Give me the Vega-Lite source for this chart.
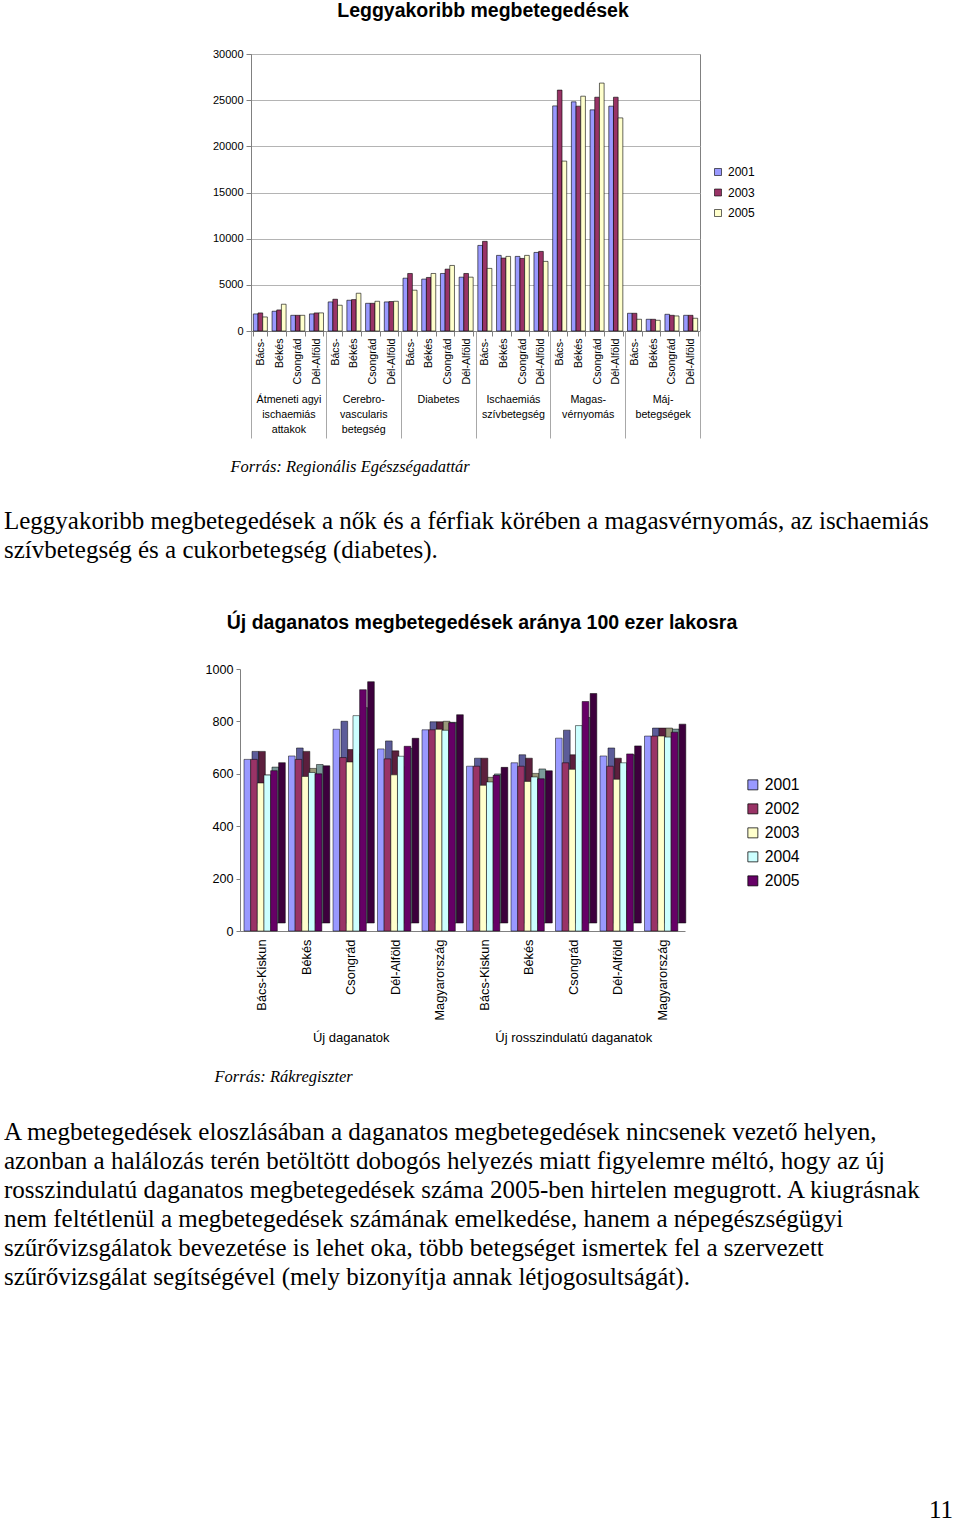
{
"$schema": "https://vega.github.io/schema/vega-lite/v6.json",
"padding": {"left": 4, "right": 0, "top": 0, "bottom": 0},
"autosize": {"type": "pad"},
"config": {
  "font": "Liberation Sans",
  "view": {"stroke": null},
  "axis": {"labelColor": "black", "labelFont": "Liberation Sans"},
  "legend": {"labelColor": "black", "labelFont": "Liberation Sans"},
  "title": {"color": "black"}
},
"datasets": {
"c1": [
{"grp":"Átmeneti agyi|ischaemiás|attakok","k":"1 Bács-","year":"2001","value":1850},
{"grp":"Átmeneti agyi|ischaemiás|attakok","k":"1 Bács-","year":"2003","value":1960},
{"grp":"Átmeneti agyi|ischaemiás|attakok","k":"1 Bács-","year":"2005","value":1520},
{"grp":"Átmeneti agyi|ischaemiás|attakok","k":"1 Békés","year":"2001","value":2140},
{"grp":"Átmeneti agyi|ischaemiás|attakok","k":"1 Békés","year":"2003","value":2280},
{"grp":"Átmeneti agyi|ischaemiás|attakok","k":"1 Békés","year":"2005","value":2900},
{"grp":"Átmeneti agyi|ischaemiás|attakok","k":"1 Csongrád","year":"2001","value":1700},
{"grp":"Átmeneti agyi|ischaemiás|attakok","k":"1 Csongrád","year":"2003","value":1700},
{"grp":"Átmeneti agyi|ischaemiás|attakok","k":"1 Csongrád","year":"2005","value":1700},
{"grp":"Átmeneti agyi|ischaemiás|attakok","k":"1 Dél-Alföld","year":"2001","value":1850},
{"grp":"Átmeneti agyi|ischaemiás|attakok","k":"1 Dél-Alföld","year":"2003","value":1960},
{"grp":"Átmeneti agyi|ischaemiás|attakok","k":"1 Dél-Alföld","year":"2005","value":1960},
{"grp":"Cerebro-|vascularis|betegség","k":"2 Bács-","year":"2001","value":3150},
{"grp":"Cerebro-|vascularis|betegség","k":"2 Bács-","year":"2003","value":3440},
{"grp":"Cerebro-|vascularis|betegség","k":"2 Bács-","year":"2005","value":2790},
{"grp":"Cerebro-|vascularis|betegség","k":"2 Békés","year":"2001","value":3330},
{"grp":"Cerebro-|vascularis|betegség","k":"2 Békés","year":"2003","value":3400},
{"grp":"Cerebro-|vascularis|betegség","k":"2 Békés","year":"2005","value":4090},
{"grp":"Cerebro-|vascularis|betegség","k":"2 Csongrád","year":"2001","value":3000},
{"grp":"Cerebro-|vascularis|betegség","k":"2 Csongrád","year":"2003","value":3000},
{"grp":"Cerebro-|vascularis|betegség","k":"2 Csongrád","year":"2005","value":3220},
{"grp":"Cerebro-|vascularis|betegség","k":"2 Dél-Alföld","year":"2001","value":3150},
{"grp":"Cerebro-|vascularis|betegség","k":"2 Dél-Alföld","year":"2003","value":3190},
{"grp":"Cerebro-|vascularis|betegség","k":"2 Dél-Alföld","year":"2005","value":3220},
{"grp":"Diabetes","k":"3 Bács-","year":"2001","value":5720},
{"grp":"Diabetes","k":"3 Bács-","year":"2003","value":6230},
{"grp":"Diabetes","k":"3 Bács-","year":"2005","value":4420},
{"grp":"Diabetes","k":"3 Békés","year":"2001","value":5620},
{"grp":"Diabetes","k":"3 Békés","year":"2003","value":5800},
{"grp":"Diabetes","k":"3 Békés","year":"2005","value":6230},
{"grp":"Diabetes","k":"3 Csongrád","year":"2001","value":6230},
{"grp":"Diabetes","k":"3 Csongrád","year":"2003","value":6700},
{"grp":"Diabetes","k":"3 Csongrád","year":"2005","value":7100},
{"grp":"Diabetes","k":"3 Dél-Alföld","year":"2001","value":5830},
{"grp":"Diabetes","k":"3 Dél-Alföld","year":"2003","value":6230},
{"grp":"Diabetes","k":"3 Dél-Alföld","year":"2005","value":5830},
{"grp":"Ischaemiás|szívbetegség","k":"4 Bács-","year":"2001","value":9270},
{"grp":"Ischaemiás|szívbetegség","k":"4 Bács-","year":"2003","value":9710},
{"grp":"Ischaemiás|szívbetegség","k":"4 Bács-","year":"2005","value":6780},
{"grp":"Ischaemiás|szívbetegség","k":"4 Békés","year":"2001","value":8190},
{"grp":"Ischaemiás|szívbetegség","k":"4 Békés","year":"2003","value":7900},
{"grp":"Ischaemiás|szívbetegség","k":"4 Békés","year":"2005","value":8080},
{"grp":"Ischaemiás|szívbetegség","k":"4 Csongrád","year":"2001","value":8080},
{"grp":"Ischaemiás|szívbetegség","k":"4 Csongrád","year":"2003","value":7860},
{"grp":"Ischaemiás|szívbetegség","k":"4 Csongrád","year":"2005","value":8190},
{"grp":"Ischaemiás|szívbetegség","k":"4 Dél-Alföld","year":"2001","value":8510},
{"grp":"Ischaemiás|szívbetegség","k":"4 Dél-Alföld","year":"2003","value":8620},
{"grp":"Ischaemiás|szívbetegség","k":"4 Dél-Alföld","year":"2005","value":7540},
{"grp":"Magas-|vérnyomás","k":"5 Bács-","year":"2001","value":24380},
{"grp":"Magas-|vérnyomás","k":"5 Bács-","year":"2003","value":26090},
{"grp":"Magas-|vérnyomás","k":"5 Bács-","year":"2005","value":18400},
{"grp":"Magas-|vérnyomás","k":"5 Békés","year":"2001","value":24820},
{"grp":"Magas-|vérnyomás","k":"5 Békés","year":"2003","value":24350},
{"grp":"Magas-|vérnyomás","k":"5 Békés","year":"2005","value":25430},
{"grp":"Magas-|vérnyomás","k":"5 Csongrád","year":"2001","value":23950},
{"grp":"Magas-|vérnyomás","k":"5 Csongrád","year":"2003","value":25320},
{"grp":"Magas-|vérnyomás","k":"5 Csongrád","year":"2005","value":26850},
{"grp":"Magas-|vérnyomás","k":"5 Dél-Alföld","year":"2001","value":24350},
{"grp":"Magas-|vérnyomás","k":"5 Dél-Alföld","year":"2003","value":25320},
{"grp":"Magas-|vérnyomás","k":"5 Dél-Alföld","year":"2005","value":23080},
{"grp":"Máj-|betegségek","k":"6 Bács-","year":"2001","value":1920},
{"grp":"Máj-|betegségek","k":"6 Bács-","year":"2003","value":1920},
{"grp":"Máj-|betegségek","k":"6 Bács-","year":"2005","value":1270},
{"grp":"Máj-|betegségek","k":"6 Békés","year":"2001","value":1270},
{"grp":"Máj-|betegségek","k":"6 Békés","year":"2003","value":1270},
{"grp":"Máj-|betegségek","k":"6 Békés","year":"2005","value":1160},
{"grp":"Máj-|betegségek","k":"6 Csongrád","year":"2001","value":1810},
{"grp":"Máj-|betegségek","k":"6 Csongrád","year":"2003","value":1700},
{"grp":"Máj-|betegségek","k":"6 Csongrád","year":"2005","value":1630},
{"grp":"Máj-|betegségek","k":"6 Dél-Alföld","year":"2001","value":1700},
{"grp":"Máj-|betegségek","k":"6 Dél-Alföld","year":"2003","value":1700},
{"grp":"Máj-|betegségek","k":"6 Dél-Alföld","year":"2005","value":1380}
],
"c2": [
{"grp":"Új daganatok","k":"1 Bács-Kiskun","year":"2001","value":655},
{"grp":"Új daganatok","k":"1 Bács-Kiskun","year":"2002","value":655},
{"grp":"Új daganatok","k":"1 Bács-Kiskun","year":"2003","value":565},
{"grp":"Új daganatok","k":"1 Bács-Kiskun","year":"2004","value":595},
{"grp":"Új daganatok","k":"1 Bács-Kiskun","year":"2005","value":612},
{"grp":"Új daganatok","k":"1 Békés","year":"2001","value":668},
{"grp":"Új daganatok","k":"1 Békés","year":"2002","value":655},
{"grp":"Új daganatok","k":"1 Békés","year":"2003","value":590},
{"grp":"Új daganatok","k":"1 Békés","year":"2004","value":605},
{"grp":"Új daganatok","k":"1 Békés","year":"2005","value":600},
{"grp":"Új daganatok","k":"1 Csongrád","year":"2001","value":770},
{"grp":"Új daganatok","k":"1 Csongrád","year":"2002","value":662},
{"grp":"Új daganatok","k":"1 Csongrád","year":"2003","value":645},
{"grp":"Új daganatok","k":"1 Csongrád","year":"2004","value":822},
{"grp":"Új daganatok","k":"1 Csongrád","year":"2005","value":921},
{"grp":"Új daganatok","k":"1 Dél-Alföld","year":"2001","value":695},
{"grp":"Új daganatok","k":"1 Dél-Alföld","year":"2002","value":657},
{"grp":"Új daganatok","k":"1 Dél-Alföld","year":"2003","value":596},
{"grp":"Új daganatok","k":"1 Dél-Alföld","year":"2004","value":667},
{"grp":"Új daganatok","k":"1 Dél-Alföld","year":"2005","value":705},
{"grp":"Új daganatok","k":"1 Magyarország","year":"2001","value":768},
{"grp":"Új daganatok","k":"1 Magyarország","year":"2002","value":768},
{"grp":"Új daganatok","k":"1 Magyarország","year":"2003","value":770},
{"grp":"Új daganatok","k":"1 Magyarország","year":"2004","value":766},
{"grp":"Új daganatok","k":"1 Magyarország","year":"2005","value":795},
{"grp":"Új rosszindulatú daganatok","k":"2 Bács-Kiskun","year":"2001","value":629},
{"grp":"Új rosszindulatú daganatok","k":"2 Bács-Kiskun","year":"2002","value":629},
{"grp":"Új rosszindulatú daganatok","k":"2 Bács-Kiskun","year":"2003","value":556},
{"grp":"Új rosszindulatú daganatok","k":"2 Bács-Kiskun","year":"2004","value":569},
{"grp":"Új rosszindulatú daganatok","k":"2 Bács-Kiskun","year":"2005","value":594},
{"grp":"Új rosszindulatú daganatok","k":"2 Békés","year":"2001","value":642},
{"grp":"Új rosszindulatú daganatok","k":"2 Békés","year":"2002","value":629},
{"grp":"Új rosszindulatú daganatok","k":"2 Békés","year":"2003","value":571},
{"grp":"Új rosszindulatú daganatok","k":"2 Békés","year":"2004","value":588},
{"grp":"Új rosszindulatú daganatok","k":"2 Békés","year":"2005","value":581},
{"grp":"Új rosszindulatú daganatok","k":"2 Csongrád","year":"2001","value":736},
{"grp":"Új rosszindulatú daganatok","k":"2 Csongrád","year":"2002","value":642},
{"grp":"Új rosszindulatú daganatok","k":"2 Csongrád","year":"2003","value":617},
{"grp":"Új rosszindulatú daganatok","k":"2 Csongrád","year":"2004","value":784},
{"grp":"Új rosszindulatú daganatok","k":"2 Csongrád","year":"2005","value":876},
{"grp":"Új rosszindulatú daganatok","k":"2 Dél-Alföld","year":"2001","value":668},
{"grp":"Új rosszindulatú daganatok","k":"2 Dél-Alföld","year":"2002","value":629},
{"grp":"Új rosszindulatú daganatok","k":"2 Dél-Alföld","year":"2003","value":579},
{"grp":"Új rosszindulatú daganatok","k":"2 Dél-Alföld","year":"2004","value":642},
{"grp":"Új rosszindulatú daganatok","k":"2 Dél-Alföld","year":"2005","value":676},
{"grp":"Új rosszindulatú daganatok","k":"2 Magyarország","year":"2001","value":744},
{"grp":"Új rosszindulatú daganatok","k":"2 Magyarország","year":"2002","value":744},
{"grp":"Új rosszindulatú daganatok","k":"2 Magyarország","year":"2003","value":744},
{"grp":"Új rosszindulatú daganatok","k":"2 Magyarország","year":"2004","value":740},
{"grp":"Új rosszindulatú daganatok","k":"2 Magyarország","year":"2005","value":759}
],
"p1": [
{"line": 1, "text": "Leggyakoribb megbetegedések a nők és a férfiak körében a magasvérnyomás, az ischaemiás"},
{"line": 2, "text": "szívbetegség és a cukorbetegség (diabetes)."}
],
"p2": [
{"line": 1, "text": "A megbetegedések eloszlásában a daganatos megbetegedések nincsenek vezető helyen,"},
{"line": 2, "text": "azonban a halálozás terén betöltött dobogós helyezés miatt figyelemre méltó, hogy az új"},
{"line": 3, "text": "rosszindulatú daganatos megbetegedések száma 2005-ben hirtelen megugrott. A kiugrásnak"},
{"line": 4, "text": "nem feltétlenül a megbetegedések számának emelkedése, hanem a népegészségügyi"},
{"line": 5, "text": "szűrővizsgálatok bevezetése is lehet oka, több betegséget ismertek fel a szervezett"},
{"line": 6, "text": "szűrővizsgálat segítségével (mely bizonyítja annak létjogosultságát)."}
]
},
"vconcat": [
{"hconcat": [
  {"width": 206.4, "height": 1, "data": {"values": []}, "mark": "point"},
  {
  "title": {"text": "Leggyakoribb megbetegedések", "font": "Liberation Sans", "fontSize": 19.5, "fontWeight": "bold", "anchor": "middle", "frame": "group", "dx": 7.5, "offset": 26.5},
  "width": 449, "height": 277,
  "view": {"stroke": "#808080"},
  "data": {"name": "c1"},
  "layer": [
    {
      "mark": {"type": "bar", "stroke": "black", "strokeWidth": 0.6},
      "encoding": {
        "x": {"field": "k", "type": "nominal", "sort": null,
              "scale": {"paddingInner": 0.25, "paddingOuter": 0.125},
              "axis": {"title": null, "labelExpr": "substring(datum.label, 2)", "labelAngle": -90, "labelFontSize": 10.6, "labelPadding": 2, "tickBand": "extent", "tickSize": 5, "tickColor": "#808080", "domainColor": "#808080", "labelOverlap": false}},
        "xOffset": {"field": "year", "type": "nominal"},
        "y": {"field": "value", "type": "quantitative",
              "scale": {"domain": [0, 30000], "nice": false},
              "axis": {"title": null, "values": [0, 5000, 10000, 15000, 20000, 25000, 30000], "format": "d", "grid": true, "gridColor": "#b4b4b4", "domainColor": "#808080", "tickColor": "#808080", "tickSize": 5, "labelPadding": 3, "labelFontSize": 11, "labelOverlap": false}},
        "color": {"field": "year", "type": "nominal",
                  "scale": {"domain": ["2001", "2003", "2005"], "range": ["#9999FF", "#993366", "#FFFFCC"]},
                  "legend": {"title": null, "orient": "none", "legendX": 708, "legendY": 112, "padding": 0, "symbolType": "square", "symbolSize": 49, "symbolStrokeColor": "black", "symbolStrokeWidth": 0.6, "labelFontSize": 12, "labelOffset": 4, "rowPadding": 8.5}}
      }
    },
    {
      "mark": {"type": "rule", "opacity": 0},
      "encoding": {
        "x": {"field": "grp", "type": "nominal", "sort": null,
              "scale": {"paddingInner": 0, "paddingOuter": 0},
              "axis": {"orient": "bottom", "domain": false, "ticks": true, "tickBand": "extent", "tickSize": 107, "tickColor": "#a8a8a8", "labelExpr": "split(datum.label, '|')", "labelAngle": 0, "labelFontSize": 10.7, "labelLineHeight": 15, "labelPadding": -44, "labelOverlap": false,
                       "title": "Forrás: Regionális Egészségadattár", "titleFont": "Liberation Serif", "titleFontStyle": "italic", "titleFontWeight": "normal", "titleFontSize": 16.5, "titleX": -21, "titleY": 140, "titleAlign": "left", "titleBaseline": "alphabetic", "titleColor": "black"}}
      }
    }
  ],
  "resolve": {"scale": {"x": "independent"}, "axis": {"x": "independent"}}
  }
], "spacing": 0},
{"width": 1, "height": 30.2, "data": {"values": []}, "mark": "point"},
{"hconcat": [
  {
  "width": 952, "height": 58,
  "data": {"name": "p1"},
  "mark": {"type": "text", "align": "left", "baseline": "middle", "font": "Liberation Serif", "fontSize": 25, "color": "black"},
  "encoding": {
    "y": {"field": "line", "type": "ordinal", "axis": null, "scale": {"type": "band", "paddingInner": 0, "paddingOuter": 0}},
    "x": {"value": 0},
    "text": {"field": "text", "type": "nominal"}
  }
  }
], "spacing": 0},
{"width": 1, "height": 47.5, "data": {"values": []}, "mark": "point"},
{"hconcat": [
  {"width": 200, "height": 1, "data": {"values": []}, "mark": "point"},
  {
  "title": {"text": "Új daganatos megbetegedések aránya 100 ezer lakosra", "font": "Liberation Sans", "fontSize": 19.5, "fontWeight": "bold", "anchor": "middle", "frame": "group", "dx": 19.5, "offset": 30},
  "width": 445, "height": 262,
  "data": {"name": "c2"},
  "layer": [
    {
      "mark": {"type": "bar", "stroke": "black", "strokeWidth": 0.5, "yOffset": -8},
      "encoding": {
        "x": {"field": "k", "type": "nominal", "sort": null, "scale": {"paddingInner": 0, "paddingOuter": 0}, "axis": null},
        "xOffset": {"field": "year", "type": "nominal", "scale": {"range": [12, 45.3]}},
        "y": {"field": "value", "type": "quantitative", "scale": {"domain": [0, 1000], "nice": false}},
        "color": {"field": "year", "type": "nominal",
                  "scale": {"domain": ["2001", "2002", "2003", "2004", "2005"], "range": ["#5c5c99", "#5c1f3d", "#99997a", "#7a9999", "#3d003d"]},
                  "legend": null}
      }
    },
    {
      "mark": {"type": "bar", "stroke": "black", "strokeWidth": 0.5},
      "encoding": {
        "x": {"field": "k", "type": "nominal", "sort": null, "scale": {"paddingInner": 0, "paddingOuter": 0},
              "axis": {"title": null, "labelExpr": "substring(datum.label, 2)", "labelAngle": -90, "labelFontSize": 12.8, "labelPadding": 8, "ticks": false, "domainColor": "#808080", "labelOverlap": false}},
        "xOffset": {"field": "year", "type": "nominal", "scale": {"range": [4, 37.3]}},
        "y": {"field": "value", "type": "quantitative", "scale": {"domain": [0, 1000], "nice": false},
              "axis": {"title": null, "values": [0, 100, 200, 300, 400, 500, 600, 700, 800, 900, 1000], "format": "d", "grid": false, "domainColor": "#808080", "tickColor": "#808080", "tickSize": 4, "labelPadding": 3, "labelFontSize": 12.6, "labelOverlap": false}},
        "color": {"field": "year", "type": "nominal",
                  "scale": {"domain": ["2001", "2002", "2003", "2004", "2005"], "range": ["#9999FF", "#993366", "#FFFFCC", "#CCFFFF", "#660066"]},
                  "legend": {"title": null, "orient": "none", "legendX": 505, "legendY": 108, "padding": 0, "symbolType": "square", "symbolSize": 100, "symbolStrokeColor": "black", "symbolStrokeWidth": 0.75, "labelFontSize": 15.7, "labelOffset": 4, "rowPadding": 7}}
      }
    },
    {
      "mark": {"type": "rule", "opacity": 0},
      "encoding": {
        "x": {"field": "grp", "type": "nominal", "sort": null,
              "scale": {"paddingInner": 0, "paddingOuter": 0},
              "axis": {"orient": "bottom", "domain": false, "ticks": false, "labelAngle": 0, "labelFontSize": 13, "labelPadding": 100, "labelOverlap": false,
                       "title": "Forrás: Rákregiszter", "titleFont": "Liberation Serif", "titleFontStyle": "italic", "titleFontWeight": "normal", "titleFontSize": 16.5, "titleX": -26, "titleY": 150, "titleAlign": "left", "titleBaseline": "alphabetic", "titleColor": "black"}}
      }
    }
  ],
  "resolve": {"scale": {"x": "independent", "xOffset": "independent", "color": "independent"}, "axis": {"x": "independent"}}
  }
], "spacing": 0},
{"width": 1, "height": 31.2, "data": {"values": []}, "mark": "point"},
{"hconcat": [
  {
  "title": {"text": "11", "orient": "bottom", "anchor": "end", "frame": "group", "font": "Liberation Serif", "fontSize": 25, "fontWeight": "normal", "baseline": "alphabetic", "offset": 227, "dx": -3},
  "width": 952, "height": 174,
  "data": {"name": "p2"},
  "mark": {"type": "text", "align": "left", "baseline": "middle", "font": "Liberation Serif", "fontSize": 25, "color": "black"},
  "encoding": {
    "y": {"field": "line", "type": "ordinal", "axis": null, "scale": {"type": "band", "paddingInner": 0, "paddingOuter": 0}},
    "x": {"value": 0},
    "text": {"field": "text", "type": "nominal"}
  }
  }
], "spacing": 0}
],
"spacing": 0
}
